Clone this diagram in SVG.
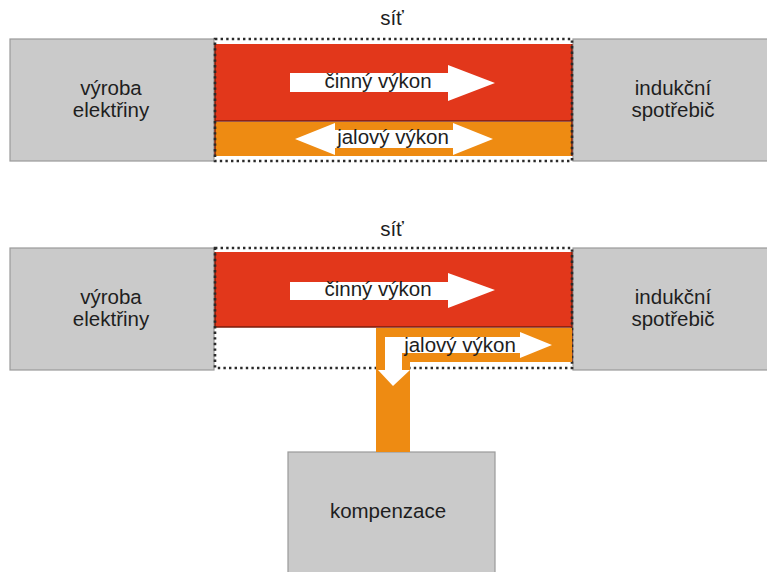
<svg xmlns="http://www.w3.org/2000/svg" width="767" height="572" viewBox="0 0 767 572">
<style>
.box{fill:#cacaca;stroke:#9a9a9a;stroke-width:1.2}
.net{fill:none;stroke:#2a2a2a;stroke-width:2.6;stroke-dasharray:2.4 3.2}
.red{fill:#e2371b}
.org{fill:#ee8b12}
.sep{stroke:#7a1c0c;stroke-width:1.5}
.wa{fill:#ffffff}
text{font-family:"Liberation Sans",Arial,sans-serif;font-size:20.5px;fill:#1e1e1e;text-anchor:middle}
</style>
<rect width="767" height="572" fill="#ffffff"/>

<!-- TOP DIAGRAM -->
<g id="top-vyroba">
<rect class="box" x="10" y="39" width="204" height="122"/>
<text x="111" y="95">výroba</text>
<text x="111" y="117">elektřiny</text>
</g>
<g id="top-spotrebic">
<rect class="box" x="573" y="39" width="200" height="122"/>
<text x="673" y="95">indukční</text>
<text x="673" y="117">spotřebič</text>
</g>
<g id="top-sit">
<text x="392" y="25">síť</text>
<rect class="red" x="215" y="44" width="357" height="77"/>
<rect class="org" x="215" y="122" width="357" height="34"/>
<line class="sep" x1="215" y1="121" x2="572" y2="121"/>
<line class="sep" x1="215" y1="44" x2="215" y2="156"/>
<line class="sep" x1="572" y1="44" x2="572" y2="156"/>
<rect class="net" x="215" y="39" width="357" height="122"/>
</g>
<g id="top-cinny">
<polygon class="wa" points="290,73 448,73 448,65 495,83 448,101 448,92 290,92"/>
<text x="378" y="88">činný výkon</text>
</g>
<g id="top-jalovy">
<polygon class="wa" points="295,139 335,123 335,130 453,130 453,123 493,139 453,155 453,148 335,148 335,155"/>
<text x="393" y="144">jalový výkon</text>
</g>

<!-- BOTTOM DIAGRAM -->
<g id="bot-vyroba">
<rect class="box" x="10" y="248" width="204" height="122"/>
<text x="111" y="304">výroba</text>
<text x="111" y="326">elektřiny</text>
</g>
<g id="bot-spotrebic">
<rect class="box" x="573" y="248" width="200" height="122"/>
<text x="673" y="304">indukční</text>
<text x="673" y="326">spotřebič</text>
</g>
<g id="kompenzace">
<rect class="box" x="288" y="452" width="207" height="125"/>
<text x="388" y="518">kompenzace</text>
</g>
<g id="bot-sit">
<text x="392" y="236">síť</text>
<rect class="red" x="215" y="252" width="357" height="75"/>
<line class="sep" x1="215" y1="327" x2="572" y2="327"/>
<line class="sep" x1="215" y1="252" x2="215" y2="327"/>
<line class="sep" x1="572" y1="252" x2="572" y2="362"/>
<rect class="net" x="215" y="248" width="357" height="120"/>
</g>
<g id="connectors">
<path class="org" d="M376,328 H572 V362 H410 V452 H376 Z"/>
<polygon class="wa" points="552,345 520,332 520,337 385,337 385,370 378,370 393,386 410,370 402,370 402,353 520,353 520,358"/>
</g>
<g id="bot-cinny">
<polygon class="wa" points="290,282 448,282 448,273 495,290 448,308 448,300 290,300"/>
<text x="378" y="296">činný výkon</text>
</g>
<g id="bot-jalovy">
<text x="460" y="352">jalový výkon</text>
</g>
</svg>
